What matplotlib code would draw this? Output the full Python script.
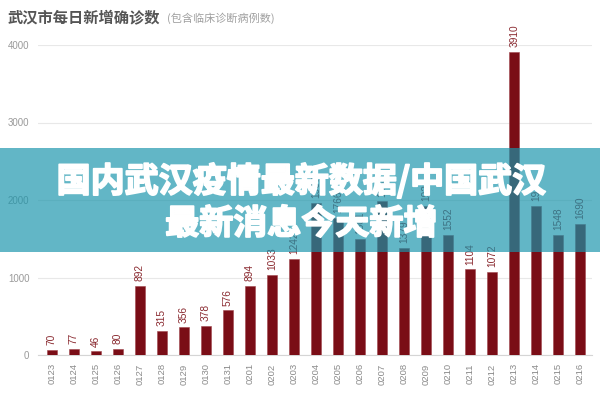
import matplotlib.pyplot as plt
import matplotlib.patheffects as pe
from matplotlib.patches import Rectangle

plt.rcParams['font.family'] = ['Liberation Sans', 'Noto Sans CJK SC', 'DejaVu Sans']

# 武汉市每日新增确诊数（包含临床诊断病例数）
fechas = ['0123', '0124', '0125', '0126', '0127', '0128', '0129', '0130', '0131',
          '0201', '0202', '0203', '0204', '0205', '0206', '0207', '0208', '0209',
          '0210', '0211', '0212', '0213', '0214', '0215', '0216']
casos = [70, 77, 46, 80, 892, 315, 356, 378, 576,
         894, 1033, 1242, 1967, 1766, 1501, 1985, 1379, 1921,
         1552, 1104, 1072, 3910, 1923, 1548, 1690]
yticks = [0, 1000, 2000, 3000, 4000]

titulo = '武汉市每日新增确诊数'
subtitulo = '(包含临床诊断病例数)'
banner = '国内武汉疫情最新数据/中国武汉\n最新消息今天新增'

fig = plt.figure(figsize=(6, 4), dpi=100)
ax = fig.add_axes([0.063, 0.1125, 0.924, 0.775])

x = range(len(fechas))
ax.bar(x, casos, width=0.45, color='#7a0d16', edgecolor='#a0464c', linewidth=0.4, zorder=3)

# Etiquetas de valor sobre cada barra
for xi, v in zip(x, casos):
    ax.text(xi, v + 60, str(v), rotation=90, ha='center', va='bottom',
            fontsize=7.3, color='#8a2a30', clip_on=False)

ax.set_xlim(-0.64, len(fechas) - 0.45)
ax.set_ylim(0, 4000)
ax.set_yticks(yticks)
ax.set_yticklabels([str(t) for t in yticks], fontsize=7, color='#9a9a9a')
ax.set_xticks(list(x))
ax.set_xticklabels(fechas, rotation=90, fontsize=6.8, color='#8a8a8a')
ax.tick_params(length=0, pad=6)
ax.grid(axis='y', color='#e8e8e8', linewidth=0.8, zorder=0)
for s in ['top', 'right', 'left']:
    ax.spines[s].set_visible(False)
ax.spines['bottom'].set_color('#d5d5d5')

# Título
fig.text(0.013, 0.957, titulo, fontsize=11, fontweight='bold', color='#555555',
         va='center', family=['Noto Sans CJK SC', 'DejaVu Sans'])
fig.text(0.278, 0.955, subtitulo, fontsize=8, color='#a0a0a0',
         va='center', family=['Noto Sans CJK SC', 'DejaVu Sans'])

# Franja semitransparente con el texto
fig.patches.append(Rectangle((0, 1 - 252 / 400), 1, 104 / 400, transform=fig.transFigure,
                             facecolor='#1894ab', alpha=0.68, edgecolor='none', zorder=5))
fig.text(0.502, 0.495, banner, ha='center', va='center', fontsize=24.5, fontweight='heavy',
         color='white', linespacing=1.25, zorder=6,
         family=['Noto Sans CJK SC', 'DejaVu Sans'],
         path_effects=[pe.withStroke(linewidth=1.3, foreground='white')])

plt.savefig('out.png', dpi=100)
